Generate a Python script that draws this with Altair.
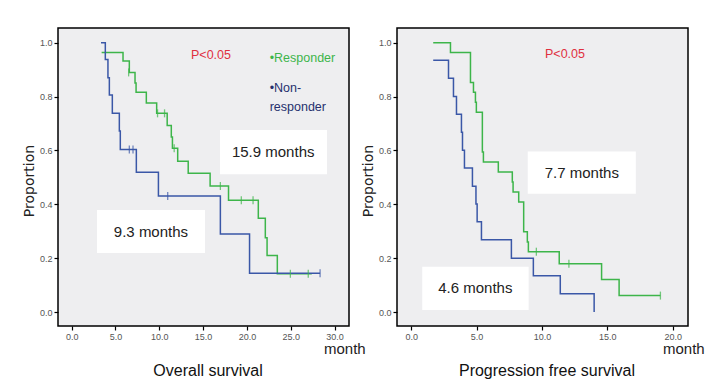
import altair as alt
import pandas as pd

# ---------------- data ----------------
# Overall survival, responder (green): step times and survival after each step
os_resp_t = [3.42, 5.86, 6.58, 7.23, 7.35, 8.52, 9.7, 10.9, 11.37, 11.5, 12.1, 13.3,
             15.8, 17.9, 21.3, 22.1, 22.3, 23.47, 27.4]
os_resp_s = [0.964, 0.932, 0.89, 0.851, 0.816, 0.776, 0.738, 0.693, 0.65, 0.608, 0.56,
             0.515, 0.468, 0.415, 0.348, 0.276, 0.21, 0.142, 0.142]
os_resp_cens_t = [6.5, 9.8, 10.6, 11.7, 16.97, 19.36, 20.7, 24.96, 27.0]
os_resp_cens_s = [0.89, 0.738, 0.738, 0.608, 0.468, 0.415, 0.415, 0.142, 0.142]

# Overall survival, non-responder (blue)
os_non_t = [3.35, 3.84, 4.14, 4.3, 4.64, 5.44, 5.55, 7.38, 9.9, 16.97, 20.3, 28.35]
os_non_s = [1.0, 0.938, 0.87, 0.806, 0.738, 0.672, 0.604, 0.519, 0.431, 0.29, 0.144, 0.144]
os_non_cens_t = [6.58, 7.0, 10.96, 28.35]
os_non_cens_s = [0.604, 0.604, 0.431, 0.144]

# Progression free survival, responder (green)
pfs_resp_t = [1.68, 3.0, 4.53, 4.76, 4.91, 4.98, 5.44, 5.52, 6.66, 7.73, 7.79, 8.22,
              8.6, 8.88, 8.96, 11.32, 14.56, 15.9, 19.06]
pfs_resp_s = [1.0, 0.964, 0.853, 0.816, 0.779, 0.742, 0.594, 0.557, 0.52, 0.483, 0.446,
              0.409, 0.298, 0.26, 0.224, 0.179, 0.121, 0.061, 0.061]
pfs_resp_cens_t = [9.57, 12.06, 19.06]
pfs_resp_cens_s = [0.224, 0.179, 0.061]

# Progression free survival, non-responder (blue)
pfs_non_t = [1.68, 2.85, 3.23, 3.46, 3.84, 3.92, 4.07, 4.68, 4.95, 5.04, 5.37, 7.66,
             9.34, 11.4, 13.99, 13.99]
pfs_non_s = [0.935, 0.868, 0.801, 0.735, 0.668, 0.601, 0.535, 0.467, 0.401, 0.335,
             0.268, 0.2, 0.135, 0.068, 0.0, 0.0]
pfs_non_cens_t = []
pfs_non_cens_s = []

groups = ["Responder", "Non-responder"]
colors = ["#3db54a", "#3a57a7"]

os_x_ticks = [0, 5, 10, 15, 20, 25, 30]
pfs_x_ticks = [0, 5, 10, 15, 20]
y_ticks = [0.0, 0.2, 0.4, 0.6, 0.8, 1.0]

# annotation boxes (data units): x0, x1, y0, y1, label, label x, label y
os_boxes = [(16.93, 29.14, 0.512, 0.676, "15.9 months", 23.0, 0.594),
            (2.89, 15.22, 0.219, 0.379, "9.3 months", 9.05, 0.299)]
pfs_boxes = [(8.91, 17.18, 0.439, 0.596, "7.7 months", 13.05, 0.516),
             (0.84, 8.98, 0.007, 0.168, "4.6 months", 4.9, 0.088)]

os_p = (15.9, 0.954)
pfs_p = (11.76, 0.958)
legend_lines = ["\u2022Responder", "\u2022Non-", "responder"]
legend_x = 22.6
legend_y = [0.943, 0.832, 0.761]
legend_colors = ["#3db54a", "#26306e", "#26306e"]

FONT = "Liberation Sans"
W, H = 291, 298


def panel(resp_t, resp_s, rc_t, rc_s, non_t, non_s, nc_t, nc_s, xdom, xticks, boxes,
          ptxt, title, legend):
    xs = alt.Scale(domain=xdom, nice=False, zero=False)
    ys = alt.Scale(domain=[-0.052, 1.055], nice=False, zero=False)
    xax = alt.Axis(values=xticks, format=".1f", title=None)
    yax = alt.Axis(values=y_ticks, format=".1f", title=None)

    def X(f):
        return alt.X(f, type="quantitative", scale=xs, axis=xax)

    def Y(f):
        return alt.Y(f, type="quantitative", scale=ys, axis=yax)

    rows = []
    for i, (t, s) in enumerate(zip(resp_t, resp_s)):
        rows.append({"t": t, "s": s, "g": groups[0], "o": i})
    for i, (t, s) in enumerate(zip(non_t, non_s)):
        rows.append({"t": t, "s": s, "g": groups[1], "o": i})
    curves = pd.DataFrame(rows)
    crow = [{"t": t, "s": s, "g": groups[0]} for t, s in zip(rc_t, rc_s)]
    crow += [{"t": t, "s": s, "g": groups[1]} for t, s in zip(nc_t, nc_s)]
    cens = pd.DataFrame(crow)
    color = alt.Color("g:N", scale=alt.Scale(domain=groups, range=colors), legend=None)

    bx = pd.DataFrame([{"x0": b[0], "x1": b[1], "y0": b[2], "y1": b[3], "lab": b[4],
                        "lx": b[5], "ly": b[6]} for b in boxes])

    rect = alt.Chart(bx).mark_rect(fill="white").encode(
        x=X("x0"), x2="x1", y=Y("y0"), y2="y1")
    btxt = alt.Chart(bx).mark_text(font=FONT, fontSize=15, color="#222").encode(
        x=X("lx"), y=Y("ly"), text="lab:N")
    lines = alt.Chart(curves).mark_line(interpolate="step-after", strokeWidth=1.5).encode(
        x=X("t"), y=Y("s"), color=color, order="o:Q", detail="g:N")
    layers = [rect, btxt, lines]
    if len(cens):
        ticks = alt.Chart(cens).mark_tick(orient="vertical", size=8, thickness=1.3).encode(
            x=X("t"), y=Y("s"), color=color)
        layers.append(ticks)
    pdf = pd.DataFrame([{"x": ptxt[0], "y": ptxt[1], "t": "P<0.05"}])
    layers.append(alt.Chart(pdf).mark_text(font=FONT, fontSize=12.5, color="#e0303f").encode(
        x=X("x"), y=Y("y"), text="t:N"))
    if legend:
        ldf = pd.DataFrame({"x": [legend_x] * 3, "y": legend_y, "t": legend_lines,
                            "c": legend_colors})
        layers.append(alt.Chart(ldf).mark_text(font=FONT, fontSize=12.5, align="left").encode(
            x=X("x"), y=Y("y"), text="t:N", color=alt.Color("c:N", scale=None)))
    one = pd.DataFrame([{"a": 1}])
    layers.append(alt.Chart(one).mark_text(font="DejaVu Sans", fontSize=14, angle=270,
                                           color="#222").encode(
        x=alt.value(-28), y=alt.value(153), text=alt.value("Proportion")))
    layers.append(alt.Chart(one).mark_text(font=FONT, fontSize=15, align="left",
                                           color="#222").encode(
        x=alt.value(266), y=alt.value(321), text=alt.value("month")))
    layers.append(alt.Chart(one).mark_text(font=FONT, fontSize=16, color="#111").encode(
        x=alt.value(150), y=alt.value(343), text=alt.value(title)))
    return alt.layer(*layers).properties(width=W, height=H)


left = panel(os_resp_t, os_resp_s, os_resp_cens_t, os_resp_cens_s,
             os_non_t, os_non_s, os_non_cens_t, os_non_cens_s,
             [-1.56, 31.65], os_x_ticks, os_boxes, os_p, "Overall survival", True)
right = panel(pfs_resp_t, pfs_resp_s, pfs_resp_cens_t, pfs_resp_cens_s,
              pfs_non_t, pfs_non_s, pfs_non_cens_t, pfs_non_cens_s,
              [-1.09, 21.17], pfs_x_ticks, pfs_boxes, pfs_p, "Progression free survival", False)

chart = alt.hconcat(left, right, spacing=48, bounds="flush").properties(
    padding={"left": 14, "top": 19, "right": 5, "bottom": 5},
    background="white"
).configure_view(
    stroke="black", strokeWidth=1.5, fill="#eeeef0"
).configure_axis(
    grid=False, domain=False, tickColor="black", tickSize=4, tickWidth=1.2,
    labelFont=FONT, labelFontSize=9, labelColor="#555", labelPadding=2
)

chart.save("out.html", embed_options={"renderer": "svg", "actions": False})
